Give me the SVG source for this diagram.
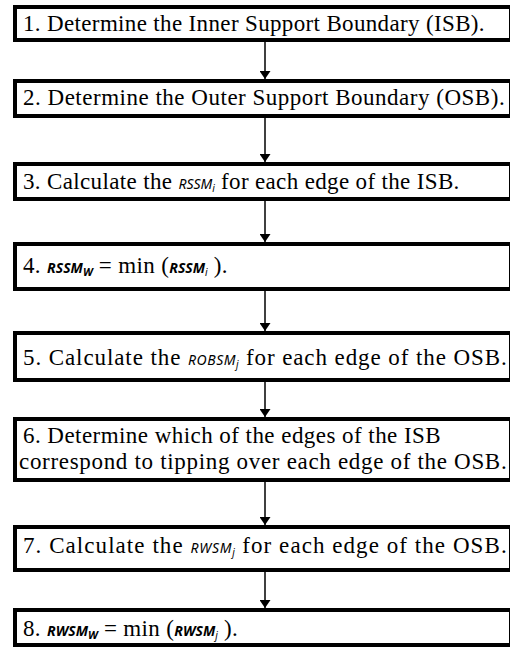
<svg xmlns="http://www.w3.org/2000/svg" width="510" height="648" viewBox="0 0 510 648">
  <defs>
    <style>
      .frame { fill: #fff; stroke: #000; stroke-width: 4; }
      .txt { font-family: "Liberation Serif", "Times New Roman", serif; font-size: 23px; fill: #000; letter-spacing: 0.35px; }
      .sym { font-family: "Noto Sans", "DejaVu Sans", sans-serif; font-style: italic; font-size: 14px; letter-spacing: 0; }
      .symL { font-family: "Noto Sans", "DejaVu Sans", sans-serif; font-style: italic; font-weight: bold; font-size: 14px; letter-spacing: 0; }
      .sub { font-family: "Noto Sans", "DejaVu Sans", sans-serif; font-style: italic; font-size: 10px; letter-spacing: 0; }
      .subL { font-family: "Noto Sans", "DejaVu Sans", sans-serif; font-style: italic; font-weight: bold; font-size: 11px; letter-spacing: 0; }
      .link { stroke: #000; stroke-width: 1.5; fill: none; }
    </style>
    <marker id="head" viewBox="0 0 8 11" refX="8" refY="5.5" markerWidth="8" markerHeight="11" markerUnits="userSpaceOnUse" orient="auto">
      <path d="M0,0 L8,5.5 L0,11 Z" fill="#000"/>
    </marker>
  </defs>

  <!-- connectors: straight downward links between consecutive steps -->
  <g id="connectors">
    <line class="link" x1="265" y1="42" x2="265" y2="79" marker-end="url(#head)"/>
    <line class="link" x1="265" y1="118" x2="265" y2="162" marker-end="url(#head)"/>
    <line class="link" x1="265" y1="201" x2="265" y2="242" marker-end="url(#head)"/>
    <line class="link" x1="265" y1="291" x2="265" y2="331" marker-end="url(#head)"/>
    <line class="link" x1="265" y1="382" x2="265" y2="417" marker-end="url(#head)"/>
    <line class="link" x1="265" y1="482" x2="265" y2="525" marker-end="url(#head)"/>
    <line class="link" x1="265" y1="572" x2="265" y2="608" marker-end="url(#head)"/>
  </g>

  <g id="step1">
    <rect class="frame" x="15" y="7" width="496" height="33"/>
    <text class="txt" x="23" y="31">1. Determine the Inner Support Boundary (ISB).</text>
  </g>

  <g id="step2">
    <rect class="frame" x="15" y="81" width="496" height="35"/>
    <text class="txt" x="23" y="105" textLength="482" lengthAdjust="spacing">2. Determine the Outer Support Boundary (OSB).</text>
  </g>

  <g id="step3">
    <rect class="frame" x="15" y="164" width="496" height="35"/>
    <text class="txt" x="23" y="189">3. Calculate the <tspan class="sym">RSSM</tspan><tspan class="sub" dy="3">i</tspan><tspan dy="-3"> for each edge of the ISB.</tspan></text>
  </g>

  <g id="step4">
    <rect class="frame" x="15" y="244" width="496" height="45"/>
    <text class="txt" x="23" y="273">4. <tspan class="symL">RSSM</tspan><tspan class="subL" dy="3">W</tspan><tspan dy="-3"> = min (</tspan><tspan class="symL">RSSM</tspan><tspan class="sub" dy="3">i</tspan><tspan dy="-3"> ).</tspan></text>
  </g>

  <g id="step5">
    <rect class="frame" x="15" y="333" width="496" height="47"/>
    <text class="txt" x="23" y="365" textLength="484" lengthAdjust="spacing">5. Calculate the <tspan class="sym">ROBSM</tspan><tspan class="sub" dy="3">j</tspan><tspan dy="-3"> for each edge of the OSB.</tspan></text>
  </g>

  <g id="step6">
    <rect class="frame" x="15" y="419" width="496" height="61"/>
    <text class="txt" x="23" y="443" textLength="418" lengthAdjust="spacing">6. Determine which of the edges of the ISB</text>
    <text class="txt" x="19" y="469" textLength="488" lengthAdjust="spacing">correspond to tipping over each edge of the OSB.</text>
  </g>

  <g id="step7">
    <rect class="frame" x="15" y="527" width="496" height="43"/>
    <text class="txt" x="23" y="553" textLength="484" lengthAdjust="spacing">7. Calculate the <tspan class="sym">RWSM</tspan><tspan class="sub" dy="3">j</tspan><tspan dy="-3"> for each edge of the OSB.</tspan></text>
  </g>

  <g id="step8">
    <rect class="frame" x="15" y="610" width="496" height="35"/>
    <text class="txt" x="23" y="636">8. <tspan class="symL">RWSM</tspan><tspan class="subL" dy="3">W</tspan><tspan dy="-3"> = min (</tspan><tspan class="symL">RWSM</tspan><tspan class="sub" dy="3">j</tspan><tspan dy="-3"> ).</tspan></text>
  </g>
</svg>
